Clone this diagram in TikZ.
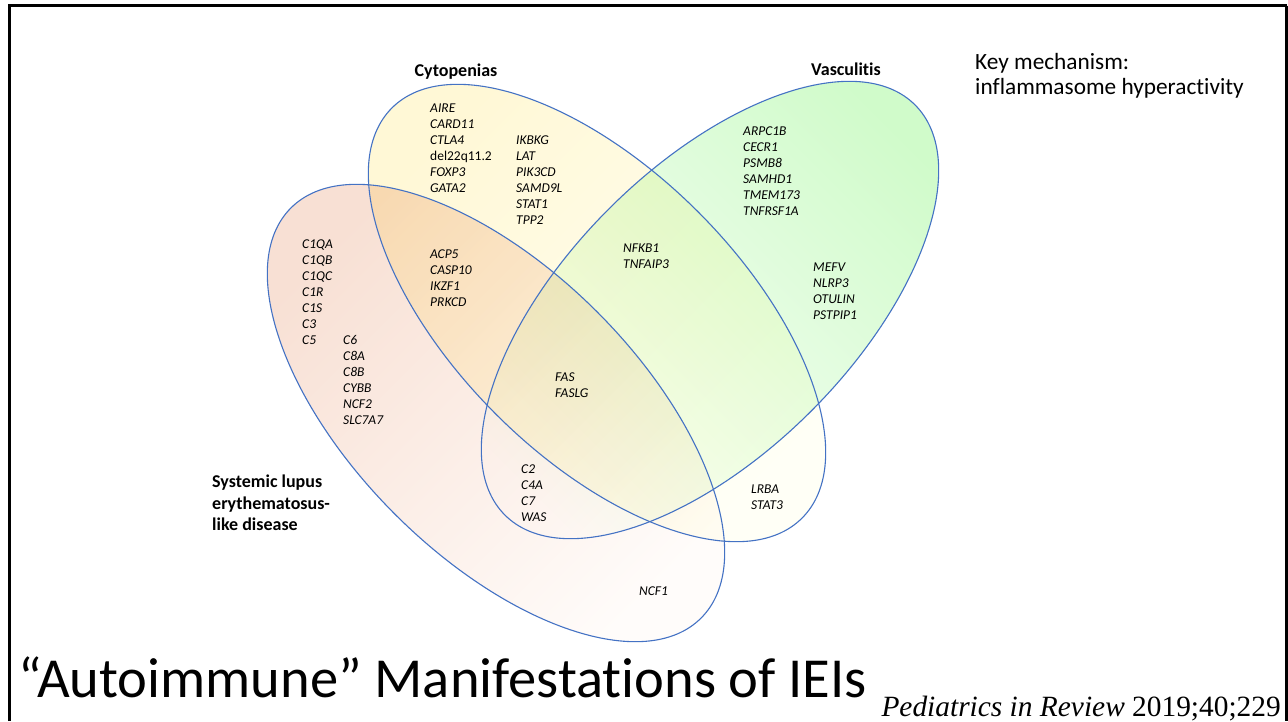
\documentclass[tikz,border=0pt]{standalone}
\usepackage{fontspec}
\setmainfont{Carlito}[Ligatures=NoCommon]
\newfontfamily\citefont{Liberation Serif}
\definecolor{vennblue}{RGB}{68,114,196}
\definecolor{ylwA}{RGB}{255,248,214}
\definecolor{ylwB}{RGB}{255,255,246}
\definecolor{pnkA}{RGB}{248,224,212}
\definecolor{pnkB}{RGB}{255,252,250}
\definecolor{grnA}{RGB}{208,251,202}
\definecolor{grnB}{RGB}{255,255,255}
\begin{document}
\begin{tikzpicture}[x=1pt,y=-1pt,
  gene/.style={anchor=north west, inner sep=0pt, align=left,
    font=\fontsize{13.5}{16}\selectfont\itshape},
  setlabel/.style={inner sep=0pt, align=left,
    font=\fontsize{18}{21.5}\selectfont\bfseries},
  venn/.style={draw=vennblue, line width=1.1pt},
]
\useasboundingbox (0,0) rectangle (1288,721);
\fill[white] (0,0) rectangle (1288,721);

% translucent gradient fills of the three sets
\begin{scope}[blend mode=multiply]
  \shade[top color=pnkA, bottom color=pnkB, shading angle=45,
    rotate around={-45:(496,413)}] (496,413) ellipse [x radius=290, y radius=143];
  \shade[top color=ylwA, bottom color=ylwB, shading angle=45,
    rotate around={-45:(597,313)}] (597,313) ellipse [x radius=290, y radius=143];
  \shade[top color=grnA, bottom color=grnB, shading angle=-45,
    rotate around={45:(710,310)}] (710,310) ellipse [x radius=290, y radius=143];
\end{scope}

% outlines
\draw[venn, rotate around={-45:(496,413)}] (496,413) ellipse [x radius=290, y radius=143];
\draw[venn, rotate around={-45:(597,313)}] (597,313) ellipse [x radius=290, y radius=143];
\draw[venn, rotate around={45:(710,310)}] (710,310) ellipse [x radius=290, y radius=143];

% slide frame
\draw[line width=2.2pt] (9.5,721) -- (9.5,5.5) -- (1286.5,5.5);
\draw[line width=3pt] (1286.5,5.5) -- (1286.5,721);

% set names
\node[setlabel, anchor=base] (cyto) at (456,76) {Cytopenias};
\node[setlabel, anchor=base] (vasc) at (846,75) {Vasculitis};
\node[setlabel, anchor=north west] (sle) at (212,475)
  {Systemic lupus\\erythematosus-\\like disease};

% genes
\node[gene] (g1) at (430,103.6) {AIRE\\CARD11\\CTLA4\\\upshape del22q11.2\\FOXP3\\GATA2};
\node[gene] (g2) at (516,135.6) {IKBKG\\LAT\\PIK3CD\\SAMD9L\\STAT1\\TPP2};
\node[gene] (g3) at (302,239.6) {C1QA\\C1QB\\C1QC\\C1R\\C1S\\C3\\C5};
\node[gene] (g4) at (343,335.6) {C6\\C8A\\C8B\\CYBB\\NCF2\\SLC7A7};
\node[gene] (g5) at (430,249.6) {ACP5\\CASP10\\IKZF1\\PRKCD};
\node[gene] (g6) at (623,243.6) {NFKB1\\TNFAIP3};
\node[gene] (g7) at (743,126.6) {ARPC1B\\CECR1\\PSMB8\\SAMHD1\\TMEM173\\TNFRSF1A};
\node[gene] (g8) at (813,262.6) {MEFV\\NLRP3\\OTULIN\\PSTPIP1};
\node[gene] (g9) at (555,372.6) {FAS\\FASLG};
\node[gene] (g10) at (521,464.6) {C2\\C4A\\C7\\WAS};
\node[gene] (g11) at (639,586.6) {NCF1};
\node[gene] (g12) at (751,484.6) {LRBA\\STAT3};

% side note
\node[anchor=north west, inner sep=0pt, align=left,
  font=\fontsize{23.3}{25}\selectfont] (key) at (975,53)
  {Key mechanism:\\inflammasome hyperactivity};

% title and source
\node[anchor=base west, inner sep=0pt, font=\fontsize{56.5}{60}\selectfont] (title)
  at (18,697) {“Autoimmune” Manifestations of IEIs};
\node[anchor=base east, inner sep=0pt, font=\citefont\fontsize{29.4}{30}\selectfont] (cite)
  at (1281,716) {\textit{Pediatrics in Review} 2019;40;229};
\end{tikzpicture}
\end{document}
